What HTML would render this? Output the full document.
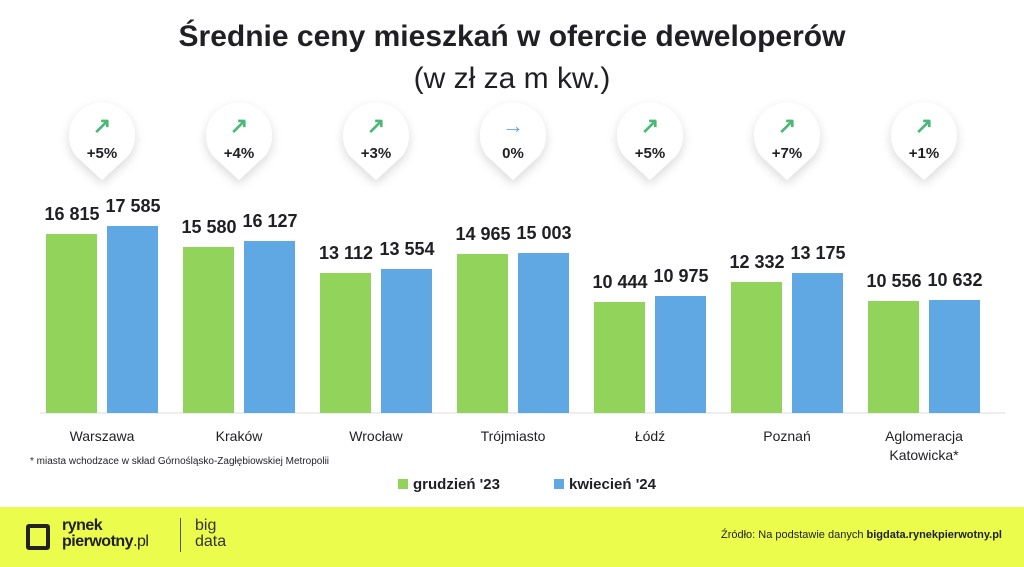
<!DOCTYPE html><html><head><meta charset="utf-8"><style>
body{margin:0;width:1024px;height:567px;background:#fff;font-family:"Liberation Sans",sans-serif;position:relative;overflow:hidden;color:#1f1f24}
.a{position:absolute}
.t{left:0;width:1024px;text-align:center}
.v{position:absolute;font-weight:bold;font-size:18px;text-align:center;width:90px}
.c{position:absolute;font-size:14px;text-align:center;width:140px;line-height:19px}
</style></head><body>
<div class="a t" style="top:20px;font-size:30px;font-weight:bold">Średnie ceny mieszkań w ofercie deweloperów</div>
<div class="a t" style="top:62px;font-size:30px">(w zł za m kw.)</div>
<svg class="a" style="left:0;top:0" width="1024" height="567">
<defs><filter id="s" x="-50%" y="-50%" width="200%" height="200%"><feDropShadow dx="0" dy="4" stdDeviation="5" flood-color="#000" flood-opacity="0.15"/></filter></defs>
<g id="pins"></g>
<line x1="40" y1="413" x2="1005" y2="413" stroke="#ddd" stroke-width="1"/>
</svg>
<div id="root"></div>
<div class="a" style="left:30px;top:456px;font-size:10px">* miasta wchodzace w skład Górnośląsko-Zagłębiowskiej Metropolii</div>
<div class="a" style="left:398px;top:479px;width:10px;height:10px;background:#92d35c"></div>
<div class="a" style="left:413px;top:476px;font-size:15px;font-weight:bold">grudzień '23</div>
<div class="a" style="left:554px;top:479px;width:10px;height:10px;background:#5fa8e4"></div>
<div class="a" style="left:569px;top:476px;font-size:15px;font-weight:bold">kwiecień '24</div>
<div class="a" style="left:0;top:507px;width:1024px;height:60px;background:#ecfc4c"></div>
<div class="a" style="left:26px;top:524px;width:16px;height:18px;border:4px solid #222;border-radius:3px"></div>
<div class="a" style="left:62px;top:518px;font-size:16px;font-weight:bold;line-height:16px;letter-spacing:-0.5px">rynek<br>pierwotny<span style="font-weight:normal">.pl</span></div>
<div class="a" style="left:180px;top:518px;width:1px;height:34px;background:#555"></div>
<div class="a" style="left:195px;top:518px;font-size:16px;line-height:16px;color:#333">big<br>data</div>
<div class="a" style="right:22px;top:529px;font-size:11px">Źródło: Na podstawie danych <b>bigdata.rynekpierwotny.pl</b></div>
<script>
var d=[["Warszawa",16815,17585,"+5%","#4cb878","↗"],["Kraków",15580,16127,"+4%","#4cb878","↗"],["Wrocław",13112,13554,"+3%","#4cb878","↗"],["Trójmiasto",14965,15003,"0%","#5fa8e4","→"],["Łódź",10444,10975,"+5%","#4cb878","↗"],["Poznań",12332,13175,"+7%","#4cb878","↗"],["Aglomeracja<br>Katowicka*",10556,10632,"+1%","#4cb878","↗"]];
var h="",p="";
function f(n){return String(n).replace(/(\d+)(\d{3})$/,"$1 $2")}
d.forEach(function(g,i){var x=46+i*137,cx=x+56;
[[g[1],x,"#92d35c"],[g[2],x+61,"#5fa8e4"]].forEach(function(b){var H=Math.round(b[0]*0.01064),T=413-H;
h+='<div class="a" style="left:'+b[1]+'px;top:'+T+'px;width:51px;height:'+H+'px;background:'+b[2]+'"></div>';
h+='<div class="v" style="left:'+(b[1]-19)+'px;top:'+(T-30)+'px">'+f(b[0])+'</div>';});
h+='<div class="c" style="left:'+(cx-70)+'px;top:427px">'+g[0]+'</div>';
p+='<path filter="url(#s)" fill="#fff" d="M'+cx+' 182 L'+(cx-26)+' 158 A33 33 0 1 1 '+(cx+26)+' 158 Z" transform="translate(0,-2)"/>';
h+='<div class="a" style="left:'+(cx-30)+'px;top:113px;width:60px;text-align:center;font-size:22px;font-weight:bold;color:'+g[4]+'">'+g[5]+'</div>';
h+='<div class="a" style="left:'+(cx-30)+'px;top:145px;width:60px;text-align:center;font-size:15px;font-weight:bold">'+g[3]+'</div>';});
document.getElementById("root").innerHTML=h;document.getElementById("pins").innerHTML=p;
</script>
</body></html>
